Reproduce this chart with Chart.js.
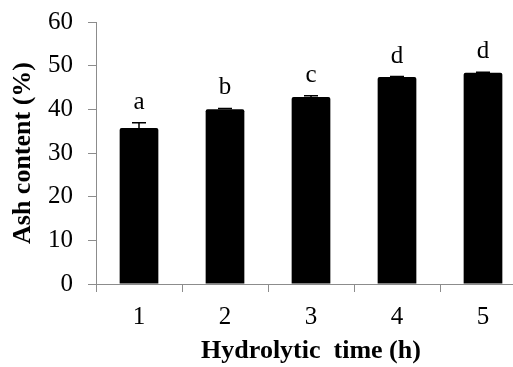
<!DOCTYPE html>
<html>
<head>
<meta charset="utf-8">
<script src="https://cdn.jsdelivr.net/npm/chart.js@4.4.1/dist/chart.umd.min.js"></script>
<style>
  html, body { margin: 0; padding: 0; background: #fff; overflow: hidden; }
  canvas { display: block; }
</style>
</head>
<body>
<canvas id="canvas1" width="526" height="367"></canvas>
<script>
const hours = ['1', '2', '3', '4', '5'];
const ashContent = [35.7, 40.0, 42.8, 47.4, 48.4];
const ashError = [1.2, 0.2, 0.3, 0.1, 0.1];
const groupLetters = ['a', 'b', 'c', 'd', 'd'];
const yTicks = [0, 10, 20, 30, 40, 50, 60];

const serif = "'Liberation Serif', 'DejaVu Serif', serif";

// error bars + significance letters on top of each bar
const barExtras = {
    id: 'barExtras',
    afterDatasetsDraw(chart) {
        const ctx = chart.ctx;
        const y = chart.scales.y;
        const bars = chart.getDatasetMeta(0).data;
        ctx.save();
        ctx.strokeStyle = '#000';
        ctx.lineWidth = 1.5;
        bars.forEach((bar, i) => {
            const top = y.getPixelForValue(ashContent[i] + ashError[i]);
            ctx.beginPath();
            ctx.moveTo(bar.x, bar.y);
            ctx.lineTo(bar.x, top);
            ctx.moveTo(bar.x - 7, top);
            ctx.lineTo(bar.x + 7, top);
            ctx.stroke();
            ctx.fillStyle = '#000';
            ctx.font = '25px ' + serif;
            ctx.textAlign = 'center';
            ctx.textBaseline = 'alphabetic';
            ctx.fillText(groupLetters[i], bar.x, top - 14);
        });
        ctx.restore();
    }
};

const c1 = new Chart(document.getElementById('canvas1'), {
    type: 'bar',
    data: {
        labels: hours,
        datasets: [{
            data: ashContent,
            backgroundColor: '#000',
            borderColor: '#000',
            borderWidth: 0,
            borderRadius: 2,
            borderSkipped: 'bottom',
            barPercentage: 0.45,
            categoryPercentage: 1
        }]
    },
    options: {
        responsive: false,
        animation: false,
        devicePixelRatio: 1,
        layout: { padding: { left: 8, top: 22, right: 0, bottom: 0 } },
        plugins: {
            legend: { display: false },
            tooltip: { enabled: false }
        },
        scales: {
            x: {
                grid: { drawOnChartArea: false, color: '#8c8c8c', tickLength: 8, offset: true },
                border: { color: '#8c8c8c', width: 1 },
                ticks: { color: '#000', font: { family: serif, size: 25 }, padding: 10 },
                title: {
                    display: true,
                    text: 'Hydrolytic  time (h)',
                    color: '#000',
                    font: { family: serif, size: 26, weight: 'bold' },
                    padding: { top: 0, bottom: 0 }
                },
                afterFit: (s) => { s.height = 83; s.paddingLeft = 0; s.paddingRight = 0; }
            },
            y: {
                min: 0,
                max: 60,
                afterBuildTicks: (s) => { s.ticks = yTicks.map(v => ({ value: v })); },
                grid: { drawOnChartArea: false, color: '#8c8c8c', tickLength: 8 },
                border: { color: '#8c8c8c', width: 1 },
                ticks: { color: '#000', font: { family: serif, size: 25 }, padding: 15 },
                title: {
                    display: true,
                    text: 'Ash content (%)',
                    color: '#000',
                    font: { family: serif, size: 26, weight: 'bold' },
                    padding: 0
                },
                afterFit: (s) => { s.width = 88; s.paddingTop = 0; s.paddingBottom = 0; }
            }
        }
    },
    plugins: [barExtras]
});
</script>
</body>
</html>
